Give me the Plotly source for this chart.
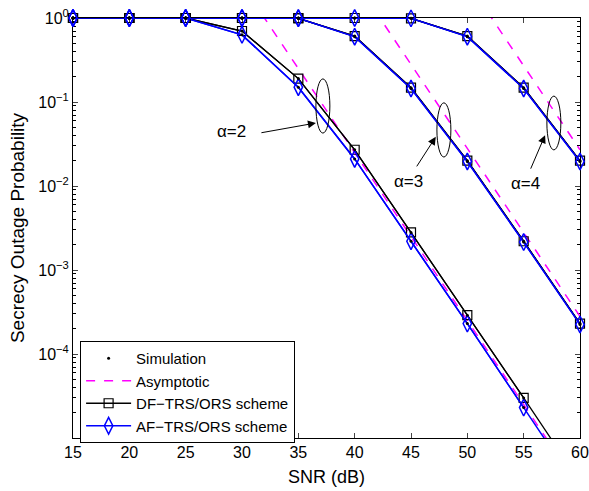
import plotly.graph_objects as go

# ---------------- data ----------------
snr = [15, 20, 25, 30, 35, 40, 45, 50, 55, 60]

df_a2 = [1, 1, 1, 0.70, 0.19, 0.027, 2.8e-3, 2.9e-4, 3.0e-5, 3.0e-6]
af_a2 = [1, 1, 1, 0.63, 0.15, 0.021, 2.2e-3, 2.3e-4, 2.3e-5, 2.3e-6]
df_a3 = [1, 1, 1, 1, 0.99, 0.61, 0.148, 0.020, 2.2e-3, 2.3e-4]
af_a3 = [1, 1, 1, 1, 0.99, 0.60, 0.145, 0.0196, 2.15e-3, 2.25e-4]
df_a4 = [1, 1, 1, 1, 1, 1, 0.99, 0.61, 0.148, 0.020]
af_a4 = [1, 1, 1, 1, 1, 1, 0.99, 0.60, 0.145, 0.0196]

asy_a2 = [None, None, None, 2.5, 0.25, 0.025, 2.5e-3, 2.5e-4, 2.5e-5, 2.5e-6]
asy_a3 = [None, None, None, None, None, 2.8, 0.28, 0.028, 2.8e-3, 2.8e-4]
asy_a4 = [None, None, None, None, None, None, None, 2.7, 0.27, 0.027]

alpha_labels = ["α=2", "α=3", "α=4"]
y_tick_vals = [1, 1e-1, 1e-2, 1e-3, 1e-4]
y_tick_text = ["10<sup>0</sup>", "10<sup>−1</sup>", "10<sup>−2</sup>",
               "10<sup>−3</sup>", "10<sup>−4</sup>"]
x_tick_vals = [15, 20, 25, 30, 35, 40, 45, 50, 55, 60]

legend_names = ["Simulation", "Asymptotic", "DF−TRS/ORS scheme", "AF−TRS/ORS scheme"]

YMIN, YMAX = 1e-5, 1.0
FONT = "Liberation Sans, Arial, sans-serif"


def in_range(vals):
    return [v if (v is not None and YMIN <= v <= YMAX * 1.0001) else None for v in vals]


fig = go.Figure()

# asymptotic dashed lines
for i, asy in enumerate([asy_a2, asy_a3, asy_a4]):
    fig.add_trace(go.Scatter(
        x=snr, y=asy, mode="lines", name=legend_names[1],
        line=dict(color="#FF00FF", width=1.5, dash="dash"),
        showlegend=(i == 0), legendrank=2, connectgaps=False, hoverinfo="skip"))

series = [(df_a2, af_a2), (df_a3, af_a3), (df_a4, af_a4)]
# full lines (clipped by the plot area)
for df, af in series:
    fig.add_trace(go.Scatter(x=snr, y=df, mode="lines", showlegend=False,
                             line=dict(color="black", width=1.3), hoverinfo="skip"))
    fig.add_trace(go.Scatter(x=snr, y=af, mode="lines", showlegend=False,
                             line=dict(color="#0000FF", width=1.5), hoverinfo="skip"))

# markers (only inside the visible range, not clipped at the frame)
for i, (df, af) in enumerate(series):
    fig.add_trace(go.Scatter(
        x=snr, y=in_range(df), mode="lines+markers", name=legend_names[2],
        line=dict(color="black", width=1.3),
        marker=dict(symbol="square-open", size=9, color="black", line=dict(width=1.2)),
        showlegend=(i == 0), legendrank=3, cliponaxis=False))
    fig.add_trace(go.Scatter(
        x=snr, y=in_range(af), mode="lines+markers", name=legend_names[3],
        line=dict(color="#0000FF", width=1.5),
        marker=dict(symbol="diamond-tall-open", size=12, color="#0000FF", line=dict(width=1.5)),
        showlegend=(i == 0), legendrank=4, cliponaxis=False))

# simulation dots
for i, (df, af) in enumerate(series):
    fig.add_trace(go.Scatter(
        x=snr + snr, y=in_range(df + af), mode="markers", name=legend_names[0],
        marker=dict(symbol="circle", size=3, color="black"),
        showlegend=(i == 0), legendrank=1, cliponaxis=False))

# ---------------- annotations ----------------
label_pos = [(29.1, 0.758), (44.8, 0.61), (55.2, 0.607)]
for txt, (lx, ly) in zip(alpha_labels, label_pos):
    fig.add_annotation(x=lx, y=ly, xref="x", yref="y domain", text=txt,
                       showarrow=False, font=dict(family=FONT, size=17, color="black"))

arrows = [(36.56, 0.75, -56, 10), (47.2, 0.717, -20, 31), (56.9, 0.721, -15, 35)]
for ax_, ay_, dx, dy in arrows:
    fig.add_annotation(x=ax_, y=ay_, xref="x", yref="y domain", text="",
                       showarrow=True, ax=dx, ay=dy, arrowhead=2, arrowsize=1.6,
                       arrowwidth=1, arrowcolor="black")

ellipses = [(36.56, 37.8, 0.726, 0.855), (47.3, 48.54, 0.669, 0.798), (57.06, 58.3, 0.686, 0.814)]
for x0, x1, y0, y1 in ellipses:
    fig.add_shape(type="circle", xref="x", yref="y domain", x0=x0, x1=x1, y0=y0, y1=y1,
                  line=dict(color="black", width=1))

minor_vals = [k * 10.0 ** e for e in range(-5, 0) for k in range(2, 10)]

fig.update_layout(
    width=589, height=491,
    margin=dict(l=73, r=9, t=18, b=53),
    paper_bgcolor="white", plot_bgcolor="white",
    font=dict(family=FONT, size=16, color="black"),
    showlegend=True,
    legend=dict(x=0.014, y=0.231, xanchor="left", yanchor="top",
                bgcolor="white", bordercolor="black", borderwidth=1,
                font=dict(family=FONT, size=15), traceorder="normal",
                tracegroupgap=0, itemwidth=45),
    xaxis=dict(range=[15, 60], tickvals=x_tick_vals, ticks="inside", ticklen=5,
               showline=True, linecolor="black", linewidth=1, mirror="ticks",
               showgrid=False, zeroline=False, layer="below traces", automargin=False,
               title=dict(text="SNR (dB)", font=dict(size=18), standoff=10),
               tickfont=dict(size=16)),
    yaxis=dict(type="log", range=[-5, 0], tickvals=y_tick_vals, ticktext=y_tick_text,
               ticks="inside", ticklen=5, showline=True, linecolor="black", linewidth=1,
               mirror="ticks", showgrid=False, zeroline=False, layer="below traces",
               automargin=False,
               minor=dict(tickvals=minor_vals, ticks="inside", ticklen=3, showgrid=False,
                          tickcolor="black"),
               title=dict(text="Secrecy Outage Probability", font=dict(size=19), standoff=8),
               tickfont=dict(size=16)),
)

fig.write_html("out.html")
